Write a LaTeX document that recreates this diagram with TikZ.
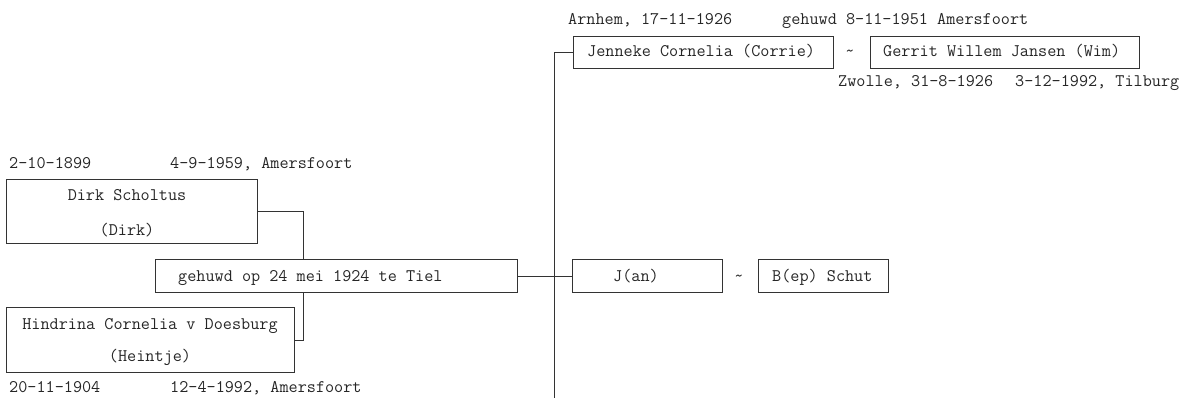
\documentclass[tikz,border=0pt]{standalone}
\usepackage{fontspec}
\begin{document}
\begin{tikzpicture}[x=1pt,y=-1pt,
  box/.style={draw=black!80,line width=0.9pt,rectangle,inner sep=0pt,anchor=north west},
  lbl/.style={anchor=base west,inner sep=0pt,font=\ttfamily\fontsize{17.7}{20}\selectfont,text=black!85},
  ctr/.style={anchor=base,inner sep=0pt,font=\ttfamily\fontsize{17.7}{20}\selectfont,text=black!85},
  conn/.style={draw=black!80,line width=0.9pt}]
\useasboundingbox (0,0) rectangle (1183,398);
% boxes
\node[box,minimum width=251pt,minimum height=64pt] (dirk) at (6,179) {};
\node[box,minimum width=288pt,minimum height=65pt] (hin) at (6,307) {};
\node[box,minimum width=362pt,minimum height=33pt] (marr) at (155,259) {};
\node[box,minimum width=260pt,minimum height=32pt] (jen) at (573,36) {};
\node[box,minimum width=269pt,minimum height=32pt] (ger) at (870,36) {};
\node[box,minimum width=150pt,minimum height=33pt] (jan) at (572,259) {};
\node[box,minimum width=130pt,minimum height=33pt] (bep) at (758,259) {};
% box texts
\node[ctr] (dirk1) at (127,201) {Dirk Scholtus};
\node[ctr] (dirk2) at (127,235) {(Dirk)};
\node[ctr] (hin1) at (150,329) {Hindrina Cornelia v Doesburg};
\node[ctr] (hin2) at (150,361) {(Heintje)};
\node[lbl] (marrt) at (178,281) {gehuwd op 24 mei 1924 te Tiel};
\node[lbl] (jent) at (587,57) {Jenneke Cornelia (Corrie)};
\node[lbl] (gert) at (883,57) {Gerrit Willem Jansen (Wim)};
\node[lbl] (jant) at (613,281) {J(an)};
\node[lbl] (bept) at (772,281) {B(ep) Schut};
\node[ctr] (t1) at (850,57) {\textasciitilde};
\node[ctr] (t2) at (739,281) {\textasciitilde};
% dates
\node[lbl] (d1) at (9,169) {2-10-1899};
\node[lbl] (d2) at (170,169) {4-9-1959, Amersfoort};
\node[lbl] (d3) at (9,392) {20-11-1904};
\node[lbl] (d4) at (170,392) {12-4-1992, Amersfoort};
\node[lbl] (d5) at (568,25) {Arnhem, 17-11-1926};
\node[lbl] (d6) at (782,25) {gehuwd 8-11-1951 Amersfoort};
\node[lbl] (d7) at (838,87) {Zwolle, 31-8-1926};
\node[lbl] (d8) at (1015,87) {3-12-1992, Tilburg};
% connectors
\coordinate (mtop) at (303,259);
\coordinate (mbot) at (303,292);
\coordinate (vbot) at (554,398);
\draw[conn] (dirk.east) -| (mtop);
\draw[conn] (hin.east) -| (mbot);
\draw[conn] (marr.east) -- (jan.west);
\draw[conn] (vbot) |- (jen.west);
\end{tikzpicture}
\end{document}
